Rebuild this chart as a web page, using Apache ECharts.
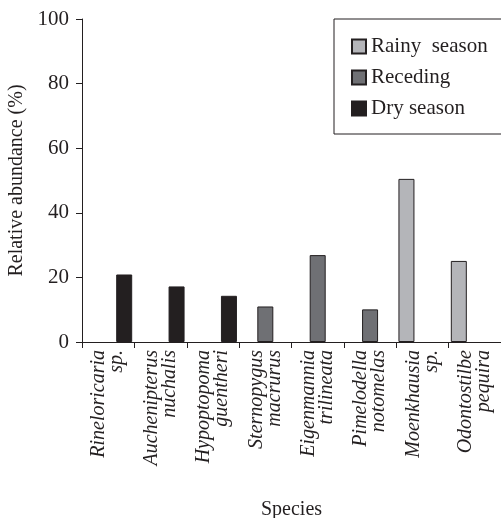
<!DOCTYPE html>
<html>
<head>
<meta charset="utf-8">
<script src="https://cdn.jsdelivr.net/npm/echarts@6/dist/echarts.min.js"></script>
<style>
  html, body { margin: 0; padding: 0; background: #fff; }
  #chart { width: 501px; height: 518px; }
</style>
</head>
<body>
<div id="chart"></div>
<script>
  // species along the x axis (two-line italic labels)
  var species = [
    'Rineloricaria\nsp.',
    'Auchenipterus\nnuchalis',
    'Hypoptopoma\nguentheri',
    'Sternopygus\nmacrurus',
    'Eigenmannia\ntrilineata',
    'Pimelodella\nnotomelas',
    'Moenkhausia\nsp.',
    'Odontostilbe\npequira'
  ];
  // relative abundance (%) per season, null = no bar
  var rainy = [null, null, null, null, null, null, 50.5, 25.1];
  var receding = [null, null, null, 11.0, 26.9, 10.1, null, null];
  var dry = [20.9, 17.2, 14.3, null, null, null, null, null];
  var yTicks = [0, 20, 40, 60, 80, 100];

  var ink = '#231f20';
  var serif = '"Liberation Serif", "DejaVu Serif", serif';

  var chart = echarts.init(document.getElementById('chart'));

  function barSeries(name, data, fill) {
    return {
      name: name,
      type: 'bar',
      data: data,
      barWidth: 16,
      barGap: '0%',
      itemStyle: { color: fill, borderColor: ink, borderWidth: 1 }
    };
  }

  chart.setOption({
    animation: false,
    backgroundColor: '#fff',
    textStyle: { fontFamily: serif, color: ink },
    grid: { left: 82, right: 0, top: 19, bottom: 176, outerBoundsMode: 'none' },
    legend: {
      orient: 'vertical',
      left: 334,
      top: 19,
      padding: [17, 40, 15, 17],
      borderColor: ink,
      borderWidth: 1,
      itemWidth: 14,
      itemHeight: 14,
      itemGap: 10,
      icon: 'rect',
      textStyle: { fontFamily: serif, fontSize: 21, color: ink, lineHeight: 14 },
      data: ['Rainy  season', 'Receding', 'Dry season']
    },
    xAxis: {
      type: 'category',
      data: species,
      name: 'Species',
      nameLocation: 'middle',
      nameGap: 158,
      nameTextStyle: { fontFamily: serif, fontSize: 20, color: ink },
      axisLine: { lineStyle: { color: ink, width: 1 } },
      axisTick: { show: true, length: 6, lineStyle: { color: ink } },
      axisLabel: {
        interval: 0,
        rotate: 90,
        margin: 8,
        fontFamily: serif,
        fontStyle: 'italic',
        fontSize: 20,
        lineHeight: 18,
        color: ink
      }
    },
    yAxis: {
      type: 'value',
      min: yTicks[0],
      max: yTicks[yTicks.length - 1],
      interval: 20,
      name: 'Relative abundance (%)',
      nameLocation: 'middle',
      nameGap: 50,
      nameTextStyle: { fontFamily: serif, fontSize: 20, color: ink },
      axisLine: { show: true, lineStyle: { color: ink, width: 1 } },
      axisTick: { show: true, length: 6, lineStyle: { color: ink } },
      axisLabel: { margin: 13, fontFamily: serif, fontSize: 21, color: ink },
      splitLine: { show: false }
    },
    series: [
      barSeries('Rainy  season', rainy, '#b4b5b9'),
      barSeries('Receding', receding, '#6f7074'),
      barSeries('Dry season', dry, ink)
    ]
  });
</script>
</body>
</html>
